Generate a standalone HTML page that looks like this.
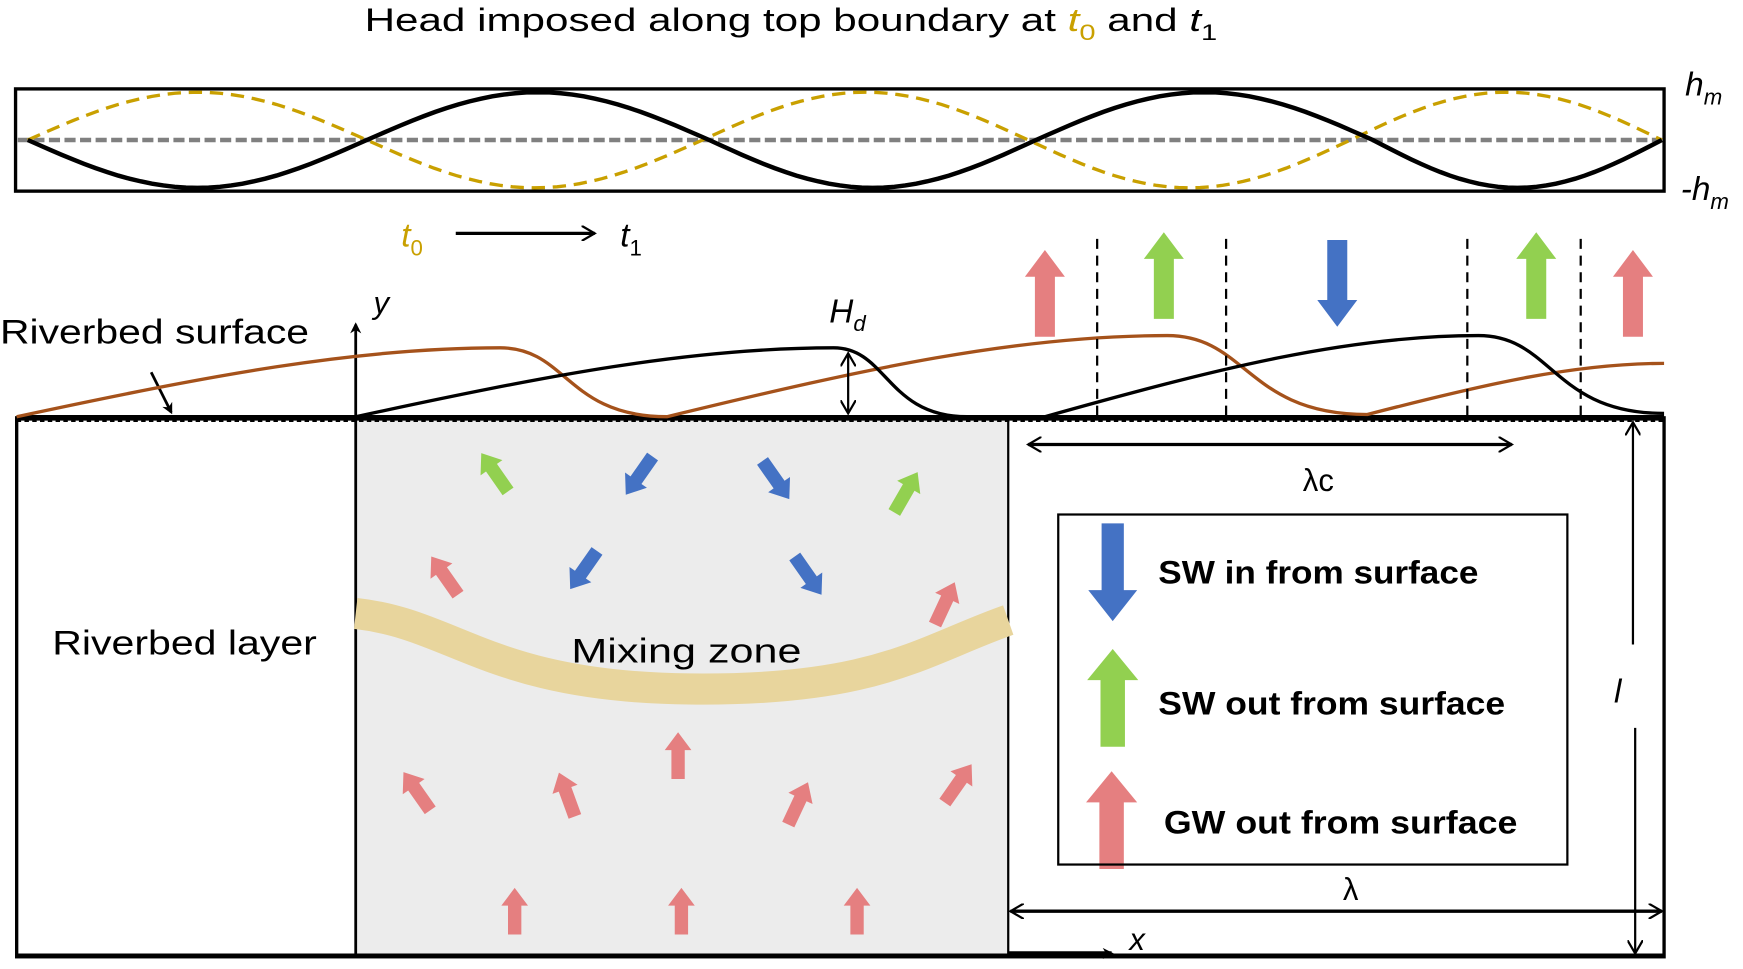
<!DOCTYPE html>
<html><head><meta charset="utf-8"><style>
html,body{margin:0;padding:0;background:#fff;}
svg{display:block;font-family:"Liberation Sans",sans-serif;}
</style></head><body>
<svg id="fig" width="1743" height="969" viewBox="0 0 1568 872" preserveAspectRatio="none" xmlns="http://www.w3.org/2000/svg">
<defs>
<marker id="ah" markerWidth="10" markerHeight="10" refX="8" refY="5" orient="auto" markerUnits="userSpaceOnUse"><path d="M0,0 L10,5 L0,10 L3,5 Z" fill="#000"/></marker>
<marker id="ahs" markerWidth="14" markerHeight="14" refX="12" refY="7" orient="auto-start-reverse" markerUnits="userSpaceOnUse"><path d="M0,0 L12,7 L0,14" fill="none" stroke="#000" stroke-width="2"/></marker>
</defs>
<text x="328" y="28" font-size="29" textLength="767" lengthAdjust="spacingAndGlyphs">Head imposed along top boundary at <tspan font-style="italic" fill="#c9a000">t</tspan><tspan fill="#c9a000" font-size="20" dy="8">0</tspan><tspan dy="-8"> and </tspan><tspan font-style="italic">t</tspan><tspan font-size="20" dy="8">1</tspan></text>
<rect x="14" y="80" width="1483" height="92" fill="none" stroke="#000" stroke-width="3"/>
<line x1="16" y1="126" x2="1495" y2="126" stroke="#808080" stroke-width="4" stroke-dasharray="10,4"/>
<g id="waves"></g>
<text x="1516" y="86" font-size="30" font-style="italic">h<tspan font-size="20" dy="8">m</tspan></text>
<text x="1512" y="180" font-size="30" font-style="italic">-h<tspan font-size="20" dy="8">m</tspan></text>
<text x="361" y="222" font-size="30" font-style="italic" fill="#c9a000">t<tspan font-style="normal" font-size="20" dy="8">0</tspan></text>
<line x1="410" y1="210" x2="535" y2="210" stroke="#000" stroke-width="3" marker-end="url(#ahs)"/>
<text x="558" y="222" font-size="30" font-style="italic">t<tspan font-style="normal" font-size="20" dy="8">1</tspan></text>

<rect x="320" y="377" width="587" height="483" fill="#ececec"/>
<rect x="15" y="376" width="1482" height="485" fill="none" stroke="#000" stroke-width="3"/>
<line x1="15" y1="376" x2="1497" y2="376" stroke="#000" stroke-width="5"/>
<line x1="15" y1="379" x2="1497" y2="379" stroke="#000" stroke-width="1.5" stroke-dasharray="4,3"/>
<line x1="15" y1="860" x2="1497" y2="860" stroke="#000" stroke-width="4"/>
<line x1="907" y1="376" x2="907" y2="860" stroke="#000" stroke-width="2"/>
<line x1="320" y1="860" x2="320" y2="292" stroke="#000" stroke-width="2.5" marker-end="url(#ah)"/>
<text x="336" y="282" font-size="28" font-style="italic">y</text>
<line x1="907" y1="858" x2="1000" y2="858" stroke="#000" stroke-width="4" marker-end="url(#ah)"/>
<text x="1016" y="855" font-size="28" font-style="italic">x</text>

<path d="M320,552 C410,562 440,618 620,620 C790,622 830,585 907,558" fill="none" stroke="#e8d59d" stroke-width="28"/>
<text x="514" y="596" font-size="31" textLength="207" lengthAdjust="spacingAndGlyphs">Mixing zone</text>
<text x="47" y="589" font-size="31" textLength="238" lengthAdjust="spacingAndGlyphs">Riverbed layer</text>
<text x="0" y="309" font-size="31" textLength="278" lengthAdjust="spacingAndGlyphs">Riverbed surface</text>
<line x1="136" y1="335" x2="154" y2="371" stroke="#000" stroke-width="2.5" marker-end="url(#ah)"/>

<g id="bedforms"></g>
<text x="746" y="290" font-size="30" font-style="italic">H<tspan font-size="20" dy="8">d</tspan></text>
<line x1="763" y1="318" x2="763" y2="372" stroke="#000" stroke-width="2" marker-start="url(#ahs)" marker-end="url(#ahs)"/>
<g id="dashes"></g>
<g id="arrows"></g>

<line x1="925" y1="400" x2="1360" y2="400" stroke="#000" stroke-width="3" marker-start="url(#ahs)" marker-end="url(#ahs)"/>
<text x="1172" y="442" font-size="28">λc</text>
<rect x="952" y="463" width="458" height="315" fill="none" stroke="#000" stroke-width="2"/>
<text x="1042" y="525" font-size="29" font-weight="bold" textLength="288" lengthAdjust="spacingAndGlyphs">SW in from surface</text>
<text x="1042" y="643" font-size="29" font-weight="bold" textLength="312" lengthAdjust="spacingAndGlyphs">SW out from surface</text>
<text x="1047" y="750" font-size="29" font-weight="bold" textLength="318" lengthAdjust="spacingAndGlyphs">GW out from surface</text>
<text x="1208" y="810" font-size="28">λ</text>
<line x1="909" y1="820" x2="1495" y2="820" stroke="#000" stroke-width="3" marker-start="url(#ahs)" marker-end="url(#ahs)"/>
<line x1="1469" y1="580" x2="1469" y2="380" stroke="#000" stroke-width="2" marker-end="url(#ahs)"/>
<line x1="1471" y1="655" x2="1471" y2="858" stroke="#000" stroke-width="2" marker-end="url(#ahs)"/>
<text x="1452" y="632" font-size="30" font-style="italic">l</text>
</svg>
<script>
// head waves: x positions of zero crossings (display units)
const blackCrossings = [25, 330, 638, 932, 1235, 1495];
const goldCrossings = [25, 330, 632, 925, 1215, 1495];
const blackFirstSign = [-1];
const goldFirstSign = [1];
const headAmp = [43];
// bedform curves: control points [x, y]
const brownPts = [[15,375],[450,313],[600,375],[1050,302],[1230,373],[1497,327]];
const blackPts = [[320,375],[750,313],[870,375],[940,375],[1330,302],[1497,372]];
const dashX = [987, 1103, 1320, 1422];
// surface arrows: x, type
const topArrowX = [940, 1047, 1203, 1382, 1469];
const topArrowType = ['gw','sw-out','sw-in','sw-out','gw'];
// interior arrows: cx, cy, angle(deg from up, clockwise), type
const inX = [445,575,698,815,400,525,727,850,610,375,510,718,862,463,613,771];
const inY = [425,428,432,443,518,513,518,543,680,712,715,723,705,820,820,820];
const inAng = [-35,-145,145,30,-35,-145,145,25,0,-35,-20,25,35,0,0,0];
const inType = ['sw-out','sw-in','sw-in','sw-out','gw','sw-in','sw-in','gw','gw','gw','gw','gw','gw','gw','gw','gw'];
const colors = {'gw':'#e57f80','sw-out':'#92d050','sw-in':'#4472c4'};
const NS='http://www.w3.org/2000/svg';
const yMid=126;
function wave(cr,sign){
  let d='';
  for(let i=0;i<cr.length-1;i++){
    const a=cr[i],b=cr[i+1],s=sign*(i%2?-1:1);
    for(let k=0;k<=30;k++){const x=a+(b-a)*k/30;const y=yMid-s*headAmp[0]*Math.sin(Math.PI*k/30);d+=(d?'L':'M')+x.toFixed(1)+','+y.toFixed(1);}
  }
  return d;
}
const wg=document.getElementById('waves');
let p=document.createElementNS(NS,'path');


p.setAttribute('d',wave(goldCrossings,goldFirstSign[0]));p.setAttribute('fill','none');p.setAttribute('stroke','#c9a000');p.setAttribute('stroke-width','3');p.setAttribute('stroke-dasharray','12,7');wg.appendChild(p);
p=document.createElementNS(NS,'path');


p.setAttribute('d',wave(blackCrossings,blackFirstSign[0]));p.setAttribute('fill','none');p.setAttribute('stroke','#000');p.setAttribute('stroke-width','4');wg.appendChild(p);

function bed(pts){
  let d='M'+pts[0][0]+','+pts[0][1];
  for(let i=1;i<pts.length;i++){const a=pts[i-1],b=pts[i];
    if(b[1]<a[1]){
      d+=` C${a[0]+(b[0]-a[0])*0.4},${a[1]-(a[1]-b[1])*0.6} ${a[0]+(b[0]-a[0])*0.7},${b[1]} ${b[0]},${b[1]}`;
    }else{d+=` C${a[0]+(b[0]-a[0])*0.4},${a[1]} ${a[0]+(b[0]-a[0])*0.4},${b[1]} ${b[0]},${b[1]}`;}
  }
  return d;
}
const bg=document.getElementById('bedforms');
p=document.createElementNS(NS,'path');


p.setAttribute('d',bed(brownPts));p.setAttribute('fill','none');p.setAttribute('stroke','#a5521b');p.setAttribute('stroke-width','3');bg.appendChild(p);
p=document.createElementNS(NS,'path');


p.setAttribute('d',bed(blackPts));p.setAttribute('fill','none');p.setAttribute('stroke','#000');p.setAttribute('stroke-width','3');bg.appendChild(p);

const dg=document.getElementById('dashes');
dashX.forEach(x=>{const l=document.createElementNS(NS,'line');


l.setAttribute('x1',x);l.setAttribute('x2',x);l.setAttribute('y1',215);l.setAttribute('y2',375);l.setAttribute('stroke','#000');l.setAttribute('stroke-width','2');l.setAttribute('stroke-dasharray','9,6');dg.appendChild(l);});

const ag=document.getElementById('arrows');
function blockArrow(cx,cy,len,sw,hw,hl,ang,col,name){
  const h=len/2;
  const d=`M${-sw/2},${h} L${-sw/2},${-h+hl} L${-hw/2},${-h+hl} L0,${-h} L${hw/2},${-h+hl} L${sw/2},${-h+hl} L${sw/2},${h} Z`;
  const e=document.createElementNS(NS,'path');
  
  
  e.setAttribute('d',d);e.setAttribute('fill',col);
  e.setAttribute('transform',`translate(${cx},${cy}) rotate(${ang})`);ag.appendChild(e);
}
const topCy={'gw':264,'sw-out':248,'sw-in':255};
topArrowX.forEach((x,i)=>{const t=topArrowType[i];blockArrow(x,topCy[t],78,18,36,24,t==='sw-in'?180:0,colors[t],'surface-arrow-'+t);});
inX.forEach((x,i)=>{blockArrow(x,inY[i],42,12,24,16,inAng[i],colors[inType[i]],'flow-arrow-'+inType[i]);});
blockArrow(1001,515,88,20,44,28,180,colors['sw-in'],'legend-arrow-sw-in');
blockArrow(1001,628,88,22,46,28,0,colors['sw-out'],'legend-arrow-sw-out');
blockArrow(1000,738,88,22,46,28,0,colors['gw'],'legend-arrow-gw-out');
</script>
</body></html>
